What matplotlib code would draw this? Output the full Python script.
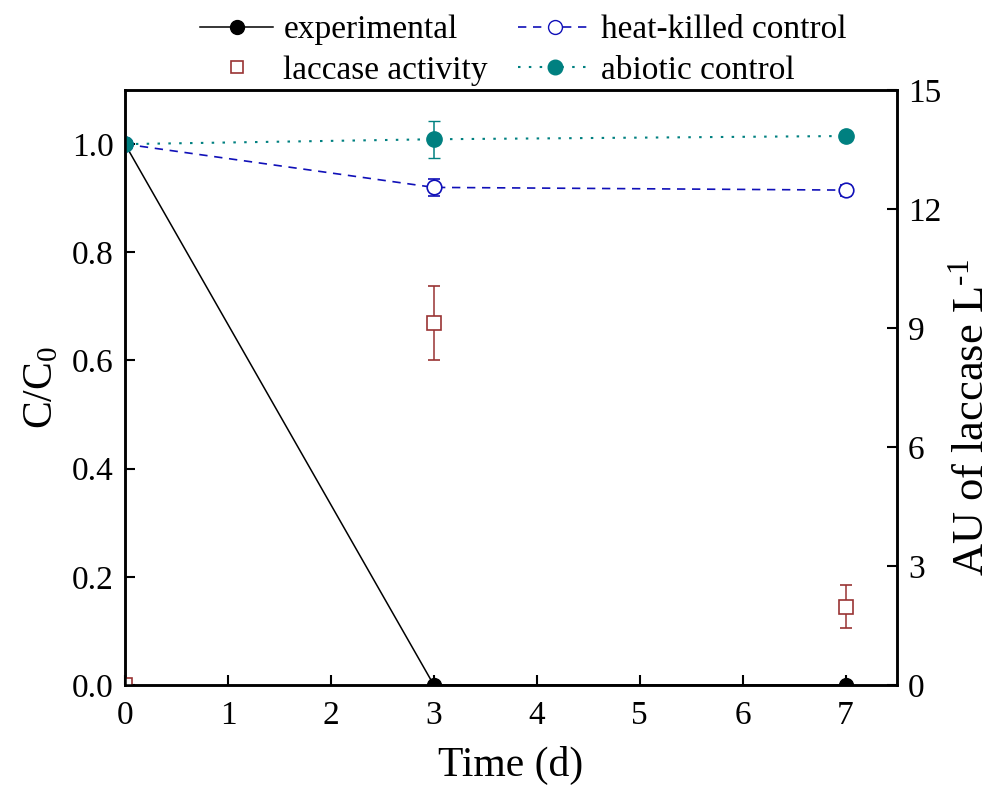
import matplotlib
matplotlib.use("Agg")
import matplotlib.pyplot as plt
from matplotlib.lines import Line2D

plt.rcParams['font.family'] = ['Liberation Serif', 'DejaVu Serif']
plt.rcParams['mathtext.fontset'] = 'custom'
plt.rcParams['mathtext.rm'] = 'Liberation Serif'
plt.rcParams['mathtext.it'] = 'Liberation Serif:italic'

# data
days = [0, 3, 7]
experimental = [1.0, 0.0, 0.0]
heat_killed = [1.0, 0.920, 0.915]
heat_killed_err = [0.0, 0.016, 0.010]
abiotic = [1.0, 1.009, 1.015]
abiotic_err = [0.0, 0.034, 0.0]
laccase = [0.0, 9.13, 1.97]
laccase_err = [0.0, 0.93, 0.54]

teal = '#008080'
blue = '#1010b8'
brown = '#993333'
dash_hk = (0, (5, 4))
dot_ab = (0, (1.2, 4))

fig = plt.figure(figsize=(9.97, 7.87), dpi=100)
ax = fig.add_axes([0.1254, 0.1296, 0.7743, 0.756])
ax2 = ax.twinx()

ax.plot(days, experimental, '-', color='black', lw=1.1, marker='o', ms=10, zorder=3)
ax.errorbar(days, heat_killed, yerr=heat_killed_err, ls=dash_hk, color=blue, lw=1.2,
            marker='o', ms=10.5, mfc='white', mec=blue, mew=1.2, capsize=4.5, elinewidth=1.1, zorder=4)
ax.errorbar(days, abiotic, yerr=abiotic_err, ls=dot_ab, color=teal, lw=1.5,
            marker='o', ms=11, mfc=teal, mec=teal, capsize=4.5, elinewidth=1.1, zorder=5)
ax2.errorbar(days, laccase, yerr=laccase_err, fmt='s', color=brown, ms=9.5, mfc='white',
             mec=brown, mew=1.2, capsize=4.5, elinewidth=1.1)

ax.set_xlim(0, 7.5)
ax.set_ylim(0, 1.1)
ax2.set_ylim(0, 15)
ax.set_xticks(range(0, 8))
ax.set_yticks([0, 0.2, 0.4, 0.6, 0.8, 1.0])
ax.set_yticklabels(['0.0', '0.2', '0.4', '0.6', '0.8', '1.0'])
ax2.set_yticks([0, 3, 6, 9, 12, 15])

for a in (ax, ax2):
    a.tick_params(direction='in', labelsize=24, length=7, width=1.5, pad=8)
    for s in a.spines.values():
        s.set_linewidth(1.8)
ax.tick_params(axis='x', pad=11)

ax.set_xlabel('Time (d)', fontsize=30, labelpad=11)
ax.set_ylabel('C/C$_0$', fontsize=30, labelpad=8)
ax2.set_ylabel(r'AU of laccase L$^{\text{-1}}$', fontsize=32)
ax2.yaxis.set_label_coords(1.072, 0.45)

handles = [
    Line2D([], [], color='black', lw=1.1, marker='o', ms=10),
    Line2D([], [], ls='none', marker='s', ms=9, mfc='white', mec=brown, mew=1.2),
    Line2D([], [], color=blue, ls=dash_hk, lw=1.2, marker='o', ms=10, mfc='white', mec=blue),
    Line2D([], [], color=teal, ls=dot_ab, lw=1.5, marker='o', ms=10.5, mfc=teal, mec=teal),
]
labels = ['experimental', 'laccase activity', 'heat-killed control', 'abiotic control']
fig.legend(handles, labels, ncol=2, loc='upper left', bbox_to_anchor=(0.2006, 0.981),
           frameon=False, fontsize=24, handlelength=2.2, handletextpad=0.3,
           columnspacing=0.9, labelspacing=0.3, borderpad=0, borderaxespad=0)

fig.savefig('out.png', dpi=100)
